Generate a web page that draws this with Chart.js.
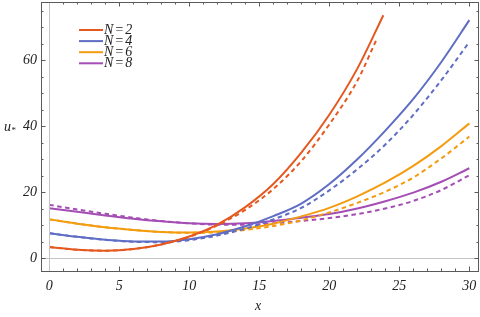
<!DOCTYPE html>
<html>
<head>
<meta charset="utf-8">
<script src="https://cdn.jsdelivr.net/npm/chart.js@4.4.1/dist/chart.umd.min.js"></script>
<style>
  body { margin: 0; background: #fff; }
</style>
</head>
<body>
<canvas id="chart" width="480" height="317"></canvas>
<script>
// values
const seriesNames = ["N=2", "N=4", "N=6", "N=8"];
const seriesColors = ["#E5581F", "#5F6DC4", "#F39C0F", "#A44DB4"];

const xFull = [0, 2, 4, 6, 8, 10, 12, 14, 16, 18, 20, 22, 24, 26, 28, 30];
const xN2Solid = [0, 2, 4, 6, 8, 10, 12, 14, 16, 18, 20, 22, 23.86];
const xN2Dashed = [0, 2, 4, 6, 8, 10, 12, 14, 16, 18, 20, 22, 23.38];

const uN2Solid = [3.4, 2.6, 2.3, 2.8, 4.2, 6.6, 10.2, 15.5, 22.5, 32, 43.5, 57.5, 73.7];
const uN2Dashed = [3.4, 2.6, 2.3, 2.8, 4.2, 6.5, 10.0, 14.7, 21.0, 29.5, 40.6, 53.8, 66.4];
const uN4Solid = [7.6, 6.5, 5.6, 5.1, 5.1, 5.8, 7.3, 9.7, 12.8, 16.6, 22.5, 30, 38.7, 48.3, 59.5, 72.2];
const uN4Dashed = [7.6, 6.5, 5.6, 5.0, 4.9, 5.5, 6.9, 9.0, 11.8, 15.3, 20.6, 27, 34.5, 43.5, 54, 65.6];
const uN6Solid = [11.8, 10.5, 9.4, 8.6, 8.0, 7.8, 8.1, 9.0, 10.5, 12.7, 15.3, 18.8, 23, 28, 34, 40.9];
const uN6Dashed = [11.8, 10.5, 9.4, 8.6, 8.0, 7.7, 7.9, 8.6, 9.8, 11.5, 13.9, 16.8, 20.2, 24.5, 30.3, 36.9];
const uN8Solid = [15.2, 14.1, 13.0, 12.0, 11.2, 10.6, 10.4, 10.6, 11.3, 12.3, 13.4, 15.1, 17.3, 19.9, 23.2, 27.3];
const uN8Dashed = [16.2, 14.8, 13.5, 12.3, 11.3, 10.6, 10.2, 10.2, 10.6, 11.3, 12.2, 13.4, 15.1, 17.4, 20.7, 25.2];

const xTickLabels = [0, 5, 10, 15, 20, 25, 30];
const yTickLabels = [0, 20, 40, 60];
const xTickStep = 1;   // minor tick spacing on x
const yTickStep = 5;   // minor tick spacing on y

const serif = "'Liberation Serif', 'Times New Roman', serif";

function pts(xs, ys) {
  return xs.map((x, i) => ({ x: x, y: ys[i] }));
}

function line(name, idx, xs, ys, dashed) {
  return {
    label: name + (dashed ? " (dashed)" : ""),
    data: pts(xs, ys),
    borderColor: seriesColors[idx],
    borderWidth: 2,
    borderDash: dashed ? [4.5, 3.5] : [],
    pointRadius: 0,
    showLine: true,
    fill: false,
    cubicInterpolationMode: "monotone",
  };
}

const datasets = [
  line(seriesNames[0], 0, xN2Solid, uN2Solid, false),
  line(seriesNames[0], 0, xN2Dashed, uN2Dashed, true),
  line(seriesNames[1], 1, xFull, uN4Solid, false),
  line(seriesNames[1], 1, xFull, uN4Dashed, true),
  line(seriesNames[2], 2, xFull, uN6Solid, false),
  line(seriesNames[2], 2, xFull, uN6Dashed, true),
  line(seriesNames[3], 3, xFull, uN8Solid, false),
  line(seriesNames[3], 3, xFull, uN8Dashed, true),
];

function tickRange(from, to, step) {
  const out = [];
  for (let v = from; v <= to + 1e-9; v += step) out.push({ value: v });
  return out;
}

function noPadding(scale) {
  scale.paddingTop = 0;
  scale.paddingBottom = 0;
  scale.paddingLeft = 0;
  scale.paddingRight = 0;
}

function drawOriginLines(chart) {
  const { ctx, chartArea: a, scales } = chart;
  const px = Math.round(scales.x.getPixelForValue(0));
  const py = Math.round(scales.y.getPixelForValue(0));
  ctx.save();
  ctx.fillStyle = "#c4c4c4";
  ctx.fillRect(px, a.top, 1, a.bottom - a.top);
  ctx.fillRect(a.left, py, a.right - a.left, 1);
  ctx.restore();
}

// light gray lines through the origin, under the curves
const originPlugin = {
  id: "origin",
  beforeDatasetsDraw(chart) {
    drawOriginLines(chart);
  },
};

// frame with inward ticks, legend and axis titles
const framePlugin = {
  id: "frame",
  afterDraw(chart) {
    const { ctx, chartArea: a, scales } = chart;
    ctx.save();
    ctx.strokeStyle = "#5a5a5a";
    ctx.lineWidth = 1;
    ctx.strokeRect(a.left + 0.5, a.top + 0.5, a.right - a.left - 1, a.bottom - a.top);

    ctx.beginPath();
    scales.x.ticks.forEach((t) => {
      const px = Math.round(scales.x.getPixelForValue(t.value)) + 0.5;
      const len = xTickLabels.includes(t.value) ? 4.5 : 2.5;
      ctx.moveTo(px, a.bottom);
      ctx.lineTo(px, a.bottom - len);
      ctx.moveTo(px, a.top);
      ctx.lineTo(px, a.top + len);
    });
    scales.y.ticks.forEach((t) => {
      const py = Math.round(scales.y.getPixelForValue(t.value)) + 0.5;
      const len = yTickLabels.includes(t.value) ? 4.5 : 2.5;
      ctx.moveTo(a.left, py);
      ctx.lineTo(a.left + len, py);
      ctx.moveTo(a.right, py);
      ctx.lineTo(a.right - len, py);
    });
    ctx.stroke();

    // vertical origin line above the curve starts (they all begin on it)
    const px0 = Math.round(scales.x.getPixelForValue(0));
    ctx.fillStyle = "#c4c4c4";
    ctx.fillRect(px0, a.top + 1, 1, a.bottom - a.top - 1);

    // legend
    ctx.font = "italic 14px " + serif;
    ctx.textBaseline = "middle";
    ctx.fillStyle = "#222";
    ctx.letterSpacing = "1.2px";
    seriesNames.forEach((name, i) => {
      const y = 30 + i * 11.1;
      ctx.strokeStyle = seriesColors[i];
      ctx.lineWidth = 2;
      ctx.beginPath();
      ctx.moveTo(79, y);
      ctx.lineTo(103, y);
      ctx.stroke();
      ctx.fillText(name, 104, y + 0.5);
    });
    ctx.letterSpacing = "0px";

    // axis titles
    ctx.font = "italic 14px " + serif;
    ctx.textAlign = "center";
    ctx.fillText("x", 258, 306);
    ctx.textAlign = "left";
    ctx.fillText("u", 4, 127);
    ctx.font = "9px " + serif;
    ctx.fillText("*", 11.5, 131);
    ctx.restore();
  },
};

new Chart(document.getElementById("chart"), {
  type: "scatter",
  data: { datasets: datasets },
  options: {
    responsive: false,
    animation: false,
    devicePixelRatio: 1,
    layout: { padding: { top: 2, right: 1, left: 0, bottom: 0 } },
    plugins: { legend: { display: false }, tooltip: { enabled: false } },
    scales: {
      x: {
        type: "linear",
        min: -0.59,
        max: 30.69,
        afterBuildTicks: (scale) => { scale.ticks = tickRange(0, 30, xTickStep); },
        afterFit: (scale) => { scale.height = 46; noPadding(scale); },
        border: { display: false },
        grid: { display: false, drawTicks: false },
        ticks: {
          autoSkip: false,
          maxRotation: 0,
          padding: 7,
          color: "#222",
          font: { family: serif, size: 14, style: "italic" },
          callback: (v) => (xTickLabels.includes(v) ? v : ""),
        },
      },
      y: {
        type: "linear",
        min: -3.85,
        max: 77.7,
        afterBuildTicks: (scale) => { scale.ticks = tickRange(0, 75, yTickStep); },
        afterFit: (scale) => { scale.width = 41; noPadding(scale); },
        border: { display: false },
        grid: { display: false, drawTicks: false },
        ticks: {
          autoSkip: false,
          padding: 4,
          color: "#222",
          font: { family: serif, size: 14, style: "italic" },
          callback: (v) => (yTickLabels.includes(v) ? v : ""),
        },
      },
    },
  },
  plugins: [originPlugin, framePlugin],
});
</script>
</body>
</html>
